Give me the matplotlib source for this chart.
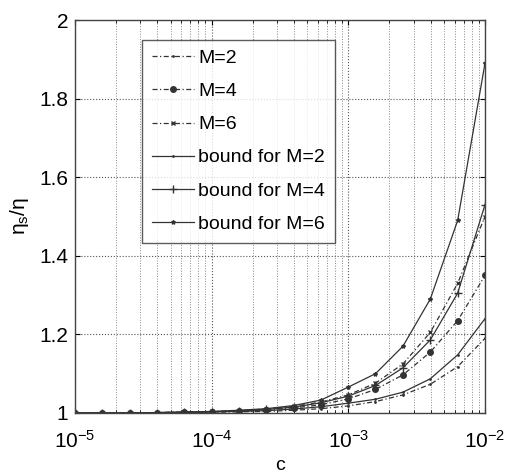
import numpy as np
import matplotlib
matplotlib.use("Agg")
import matplotlib.pyplot as plt
from matplotlib.ticker import LogLocator, NullFormatter, MultipleLocator

# concentration grid (5 points per decade)
c = [1e-5, 1.58e-5, 2.51e-5, 3.98e-5, 6.31e-5,
     1e-4, 1.58e-4, 2.51e-4, 3.98e-4, 6.31e-4,
     1e-3, 1.58e-3, 2.51e-3, 3.98e-3, 6.31e-3, 1e-2]

m2 = [1.0, 1.0, 1.0, 1.0, 1.001, 1.002, 1.003, 1.004, 1.007, 1.011,
      1.018, 1.029, 1.046, 1.073, 1.118, 1.19]
m4 = [1.0, 1.0, 1.0, 1.001, 1.002, 1.003, 1.005, 1.008, 1.013, 1.021,
      1.036, 1.06, 1.097, 1.155, 1.235, 1.35]
m6 = [1.0, 1.0, 1.0, 1.001, 1.002, 1.004, 1.006, 1.01, 1.017, 1.028,
      1.046, 1.076, 1.125, 1.205, 1.33, 1.50]
b2 = [1.0, 1.0, 1.0, 1.001, 1.002, 1.003, 1.004, 1.006, 1.01, 1.016,
      1.025, 1.035, 1.053, 1.087, 1.148, 1.24]
b4 = [1.0, 1.0, 1.0, 1.001, 1.002, 1.003, 1.005, 1.009, 1.015, 1.026,
      1.043, 1.07, 1.115, 1.186, 1.305, 1.53]
b6 = [1.0, 1.0, 1.0, 1.001, 1.002, 1.004, 1.007, 1.011, 1.019, 1.033,
      1.066, 1.10, 1.17, 1.29, 1.49, 1.89]

plt.rcParams['font.family'] = ['Liberation Sans', 'DejaVu Sans']
plt.rcParams['mathtext.fontset'] = 'custom'
plt.rcParams['mathtext.rm'] = 'Liberation Sans'
plt.rcParams['mathtext.it'] = 'Liberation Sans:italic'

fig = plt.figure(figsize=(5.05, 4.74), dpi=100)
ax = fig.add_axes([75/505, 61/474, 410/505, 393/474])

col = '#333333'
ax.plot(c, m2, linestyle=(0, (4, 2, 1, 2)), color=col, lw=0.9, marker='.', ms=2, label='M=2')
ax.plot(c, m4, linestyle=(0, (4, 2, 1, 2)), color=col, lw=0.9, marker='o', ms=4, label='M=4')
ax.plot(c, m6, linestyle=(0, (4, 2, 1, 2)), color=col, lw=0.9, marker='x', ms=3, label='M=6')
ax.plot(c, b2, '-', color=col, lw=0.9, marker='.', ms=2, label='bound for M=2')
ax.plot(c, b4, '-', color=col, lw=0.9, marker='+', ms=6, label='bound for M=4')
ax.plot(c, b6, '-', color=col, lw=0.9, marker='*', ms=3, label='bound for M=6')

ax.set_xscale('log')
ax.set_xlim(1e-5, 1e-2)
ax.set_ylim(1, 2)
ax.yaxis.set_major_locator(MultipleLocator(0.2))
ax.yaxis.set_major_formatter(plt.FuncFormatter(lambda v, p: '%g' % round(v, 1)))
ax.xaxis.set_major_locator(LogLocator(base=10, numticks=10))
ax.xaxis.set_minor_locator(LogLocator(base=10, subs=np.arange(2, 10), numticks=10))
ax.xaxis.set_minor_formatter(NullFormatter())

ax.grid(True, which='major', linestyle=':', color='#555555', lw=0.8)
ax.grid(True, which='minor', axis='x', linestyle=':', color='#888888', lw=0.7)
ax.tick_params(which='both', direction='in', top=True, right=True, labelsize=15)
ax.tick_params(axis='x', pad=12)
ax.tick_params(axis='y', pad=5)
for s in ax.spines.values():
    s.set_linewidth(1.0)
    s.set_color('#444444')

ax.set_xlabel('c', fontsize=14, labelpad=4)
ax.set_ylabel(r'$\mathregular{\eta_s/\eta}$', fontsize=15, labelpad=6)

leg = ax.legend(loc='upper left', bbox_to_anchor=(0.163, 0.95), fontsize=14,
                frameon=True, fancybox=False, edgecolor='#333333',
                handlelength=2.2, handletextpad=0.2, borderpad=0.5,
                labelspacing=0.8, borderaxespad=0)
leg.get_frame().set_linewidth(1.0)

fig.savefig('out.png', dpi=100)
